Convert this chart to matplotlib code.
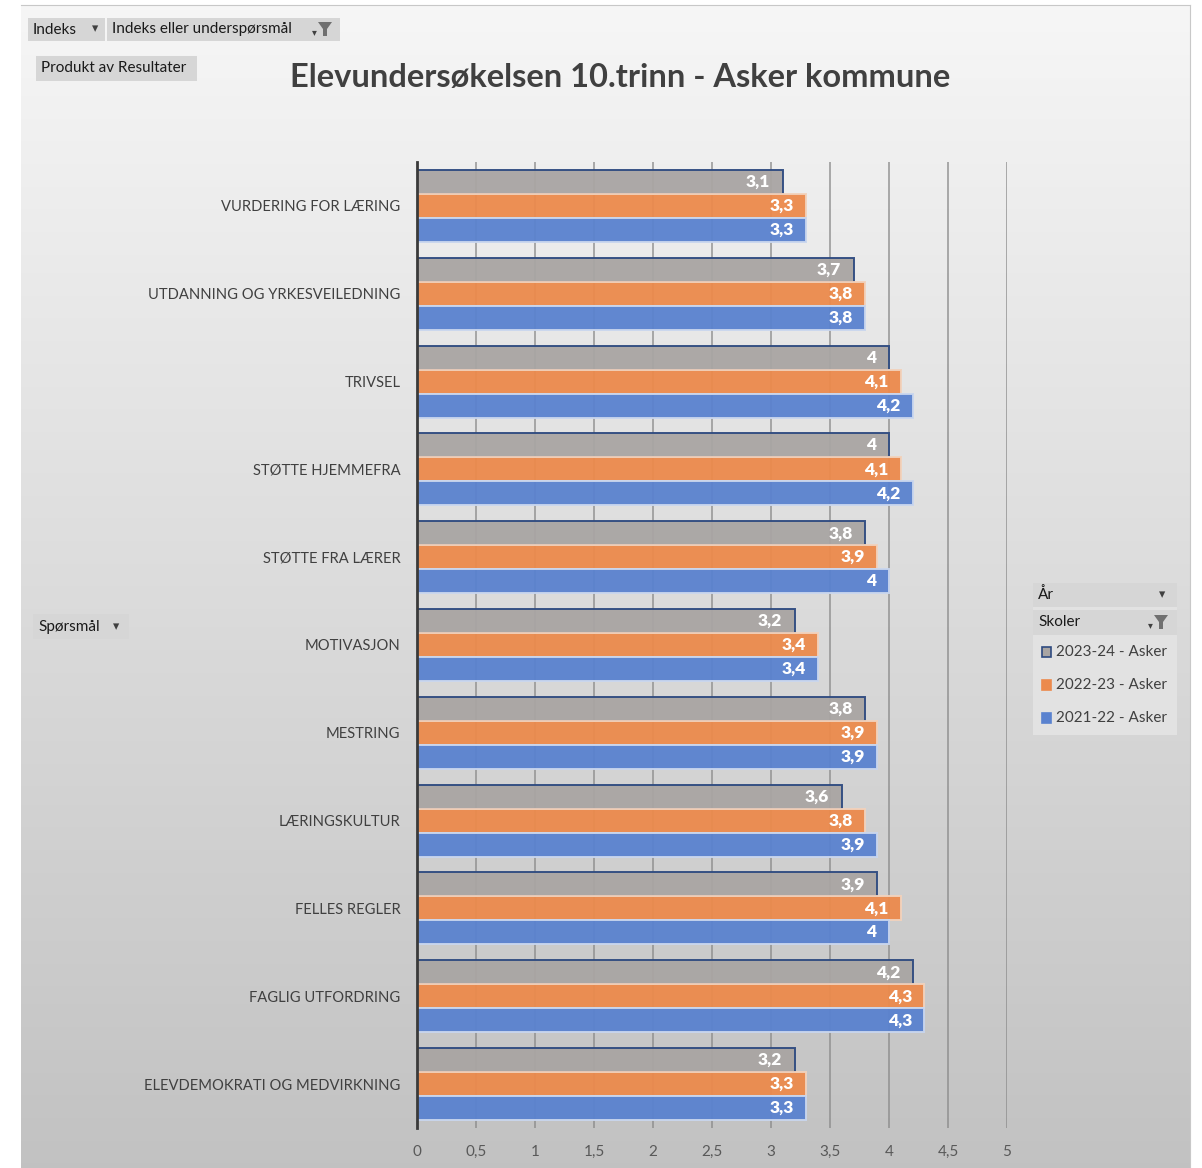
import matplotlib.pyplot as plt
import matplotlib.patches as mpatches
import numpy as np

W, H = 1202, 1168

sporsmal = ["VURDERING FOR LÆRING", "UTDANNING OG YRKESVEILEDNING", "TRIVSEL",
            "STØTTE HJEMMEFRA", "STØTTE FRA LÆRER", "MOTIVASJON", "MESTRING",
            "LÆRINGSKULTUR", "FELLES REGLER", "FAGLIG UTFORDRING",
            "ELEVDEMOKRATI OG MEDVIRKNING"]
aar = ["2023-24 - Asker", "2022-23 - Asker", "2021-22 - Asker"]
v_2023 = [3.1, 3.7, 4.0, 4.0, 3.8, 3.2, 3.8, 3.6, 3.9, 4.2, 3.2]
v_2022 = [3.3, 3.8, 4.1, 4.1, 3.9, 3.4, 3.9, 3.8, 4.1, 4.3, 3.3]
v_2021 = [3.3, 3.8, 4.2, 4.2, 4.0, 3.4, 3.9, 3.9, 4.0, 4.3, 3.3]
farger = ["#a9a5a3", "#ec8a4c", "#5a82cf"]
kanter = ["#2e4a80", "#f2d2bc", "#c9d6ee"]

plt.rcParams['font.family'] = ['Lato', 'DejaVu Sans']

fig = plt.figure(figsize=(W / 100, H / 100), dpi=100, facecolor="white")

def fx(x):
    return x / W

def fy(y):
    return 1 - y / H

# bakgrunn med gradient
bg = fig.add_axes([fx(21), 0, fx(1190) - fx(21), fy(5)])
grad = np.linspace(0.965, 0.76, 256).reshape(-1, 1)
bg.imshow(np.dstack([grad, grad, grad]), aspect="auto", extent=[0, 1, 0, 1])
bg.set_xticks([])
bg.set_yticks([])
for s in bg.spines.values():
    s.set_color("#c8c8c8")
bg.spines["left"].set_visible(False)
bg.spines["bottom"].set_visible(False)

ax = fig.add_axes([fx(417), fy(1128), fx(1007) - fx(417), fy(162) - fy(1128)])
ax.set_facecolor("none")

y = np.arange(len(sporsmal))
h = 0.273
serier = [v_2023, v_2022, v_2021]
for k, vals in enumerate(serier):
    pos = y + (k - 1) * h
    ax.barh(pos, vals, height=h, color=farger[k], edgecolor=kanter[k],
            linewidth=1.4, alpha=0.95, zorder=3)
    for p, v in zip(pos, vals):
        lbl = ("%g" % v).replace(".", ",")
        ax.annotate(lbl, (v, p), xytext=(-9, 0), textcoords="offset points",
                    ha="right", va="center", color="white", fontweight="heavy",
                    fontsize=12.5, zorder=4)

ax.set_xlim(0, 5)
ax.set_ylim(len(sporsmal) - 0.5, -0.5)
ax.set_xticks(np.arange(0, 5.01, 0.5))
ax.set_xticklabels([("%g" % t).replace(".", ",") for t in np.arange(0, 5.01, 0.5)],
                   fontsize=11, color="#595959")
ax.set_yticks(y)
ax.set_yticklabels(sporsmal, fontsize=10.6, color="#404040")
ax.tick_params(axis="both", length=0)
ax.tick_params(axis="x", pad=12)
ax.tick_params(axis="y", pad=12)
ax.grid(axis="x", color="#8a8a8a", alpha=0.7, linewidth=1.4, zorder=0)
ax.set_axisbelow(True)
for s in ["top", "right", "bottom"]:
    ax.spines[s].set_visible(False)
ax.spines["left"].set_color("#3a3a3a")
ax.spines["left"].set_linewidth(2)
ax.spines["left"].set_zorder(5)

fig.text(fx(620), fy(77), "Elevundersøkelsen 10.trinn - Asker kommune",
         ha="center", va="center", fontsize=23.5, fontweight="bold", color="#404040")

# pivot-knapper
def knapp(x0, y0, x1, y1, tekst, fc="#d6d6d6"):
    fig.patches.append(mpatches.Rectangle((fx(x0), fy(y1)), fx(x1) - fx(x0),
                                          fy(y0) - fy(y1), transform=fig.transFigure,
                                          facecolor=fc, edgecolor="none", zorder=2))
    fig.text(fx(x0 + 5), fy((y0 + y1) / 2), tekst, ha="left", va="center",
             fontsize=11, color="#1a1a1a", zorder=3)

def trakt(x, yc):
    pts = [(x - 7, yc - 7), (x + 7, yc - 7), (x + 2, yc), (x + 2, yc + 7),
           (x - 2, yc + 7), (x - 2, yc)]
    fig.patches.append(mpatches.Polygon([(fx(a), fy(b)) for a, b in pts],
                                        closed=True, transform=fig.transFigure,
                                        facecolor="#707070", edgecolor="none", zorder=3))
    fig.text(fx(x - 11), fy(yc + 3), "▾", ha="center", va="center", fontsize=7,
             color="#404040", family="DejaVu Sans", zorder=3)

def pil(x, yc):
    fig.text(fx(x), fy(yc), "▾", ha="center", va="center", fontsize=9,
             color="#404040", family="DejaVu Sans", zorder=3)

knapp(28, 18, 105, 41, "Indeks")
pil(95, 29)
knapp(107, 18, 340, 41, "Indeks eller underspørsmål")
trakt(325, 29)
knapp(36, 56, 197, 81, "Produkt av Resultater")
knapp(33, 614, 129, 639, "Spørsmål")
pil(116, 627)

# legende
fig.patches.append(mpatches.Rectangle((fx(1033), fy(735)), fx(1177) - fx(1033),
                                      fy(583) - fy(735), transform=fig.transFigure,
                                      facecolor="#e2e2e2", edgecolor="none", zorder=1))
knapp(1033, 583, 1177, 607, "År")
pil(1162, 595)
knapp(1033, 610, 1177, 635, "Skoler")
trakt(1161, 622)
for k, navn in enumerate(aar):
    yc = 652 + k * 33
    fig.patches.append(mpatches.Rectangle((fx(1042), fy(yc + 5)), fx(9), fy(0) - fy(10),
                                          transform=fig.transFigure, facecolor=farger[k],
                                          edgecolor=kanter[k] if k == 0 else farger[k],
                                          linewidth=1.2, zorder=3))
    fig.text(fx(1056), fy(yc), navn, ha="left", va="center", fontsize=11,
             color="#404040", zorder=3)

fig.savefig("out.png", dpi=100)
